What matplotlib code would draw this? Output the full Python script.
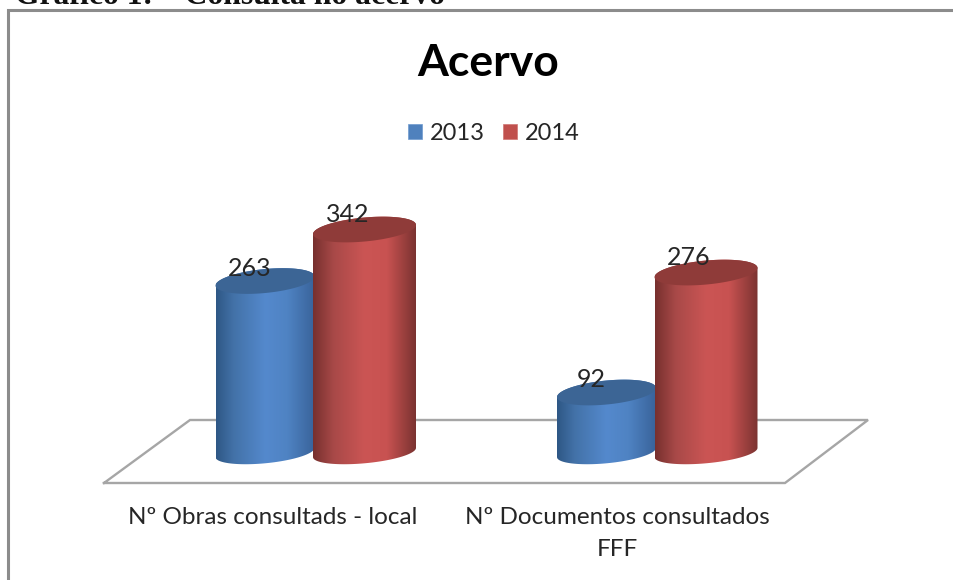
import numpy as np
import matplotlib
matplotlib.use("Agg")
import matplotlib.pyplot as plt
from matplotlib.colors import LinearSegmentedColormap
from matplotlib.patches import PathPatch, Patch
from matplotlib.path import Path

categories = ["Nº Obras consultads - local", "Nº Documentos consultados\nFFF"]
series_names = ["2013", "2014"]
values_2013 = [263, 92]
values_2014 = [342, 276]
title = "Acervo"
caption = "Gráfico 1: – Consulta no acervo"

W, H = 954, 580
fig = plt.figure(figsize=(W / 100, H / 100), dpi=100, facecolor="white")
ax = fig.add_axes([0, 0, 1, 1])
ax.axis("off")

# scales: category index -> x, value -> y
X0, XS = 314.0, 341.5      # px of category 0, px per category
Y0, YS = 452.5, 0.652      # px of value 0, px per value
ax.set_xlim(-X0 / XS, (W - X0) / XS)
ax.set_ylim(-(H - Y0) / YS, Y0 / YS)

def px(x, y):
    return (np.asarray(x) - X0) / XS, (Y0 - np.asarray(y)) / YS

FONT = "Lato"
TXT = "#262626"

# frame
fx, fy = px([7.5, 7.5, W], [H, 9.5, 9.5])
ax.plot(fx, fy, color="#8c8c8c", lw=2.2, solid_joinstyle="miter", zorder=1)

# floor
fx, fy = px([104, 190, 868, 785, 104], [483, 420, 420, 483, 483])
ax.plot(fx, fy, color="#a6a6a6", lw=1.7, zorder=1, solid_joinstyle="miter")

A_BLUE = 49.5 / XS
A_RED = 51.5 / XS
OFF_BLUE = -49 / XS
OFF_RED = 50.5 / XS
TILT = 4.6 / YS        # rise over half width (value units)
B_TOP = 12.0 / YS
B_BASE = 10.8 / YS

blue = LinearSegmentedColormap.from_list("b", [(0, "#2e5785"), (.18, "#4372a8"), (.5, "#5489cd"),
                                               (.72, "#4f83c3"), (1, "#39639a")])
red = LinearSegmentedColormap.from_list("r", [(0, "#77302e"), (.2, "#a84948"), (.5, "#cb5554"),
                                              (.72, "#c85251"), (1, "#7b3331")])
grad = np.linspace(0, 1, 256)[None, :]

def cylinder(cx, A, v, cmap, top_col, z):
    t1 = np.linspace(np.pi, 2 * np.pi, 60)
    t2 = np.linspace(0, np.pi, 60)
    bx = cx + A * np.cos(t1)
    by = B_BASE * np.sin(t1) + TILT * np.cos(t1)
    tx = cx + A * np.cos(t2)
    ty = v + B_TOP * np.sin(t2) + TILT * np.cos(t2)
    body = Path(np.column_stack([np.r_[bx, tx, bx[0]], np.r_[by, ty, by[0]]]), closed=True)
    im = ax.imshow(grad, cmap=cmap, aspect="auto", zorder=z,
                   extent=[cx - A, cx + A, -40, v + 40])
    im.set_clip_path(PathPatch(body, transform=ax.transData))
    t = np.linspace(0, 2 * np.pi, 120)
    ax.fill(cx + A * np.cos(t), v + B_TOP * np.sin(t) + TILT * np.cos(t),
            color=top_col, lw=0, zorder=z + 0.1)

for i, (v13, v14) in enumerate(zip(values_2013, values_2014)):
    cylinder(i + OFF_BLUE, A_BLUE, v13, blue, "#3c6595", 2)
    cylinder(i + OFF_RED, A_RED, v14, red, "#8f3b39", 3)
    ax.annotate(str(v13), (i + OFF_BLUE, v13), xytext=(-15, 13), textcoords="offset pixels",
                ha="center", va="center", fontsize=18, family=FONT, color=TXT, zorder=5)
    ax.annotate(str(v14), (i + OFF_RED, v14), xytext=(-17, 15), textcoords="offset pixels",
                ha="center", va="center", fontsize=18, family=FONT, color=TXT, zorder=5)

# category labels
for i, (lab, xp) in enumerate(zip(categories, [273, 617])):
    lx, ly = px(xp, 507)
    ax.text(lx, ly, lab, ha="center", va="top", fontsize=17.5, family=FONT,
            color=TXT, linespacing=1.67, zorder=5)

# title and caption
tx, ty = px(488, 63)
ax.text(tx, ty, title, ha="center", va="center", fontsize=32, weight="bold", family=FONT, color="black")
cx_, cy_ = px(15, 4)
ax.text(cx_, cy_, caption, ha="left", va="baseline", fontsize=22.8, weight="bold",
        family="Liberation Serif", color="#111111", clip_on=True)

# legend
handles = [Patch(facecolor="#4f81bd", edgecolor="#6f9bd0", lw=0.5),
           Patch(facecolor="#c0504d", edgecolor="#d07573", lw=0.5)]
ax.legend(handles, series_names, loc="center", bbox_to_anchor=(493.5 / W, 1 - 133 / H),
          ncol=2, frameon=False, handlelength=0.58, handleheight=0.6,
          handletextpad=0.335, columnspacing=0.78, labelcolor=TXT,
          prop={"family": FONT, "size": 17})

ax.set_xlim(-X0 / XS, (W - X0) / XS)
ax.set_ylim(-(H - Y0) / YS, Y0 / YS)
fig.savefig("out.png", dpi=100)
